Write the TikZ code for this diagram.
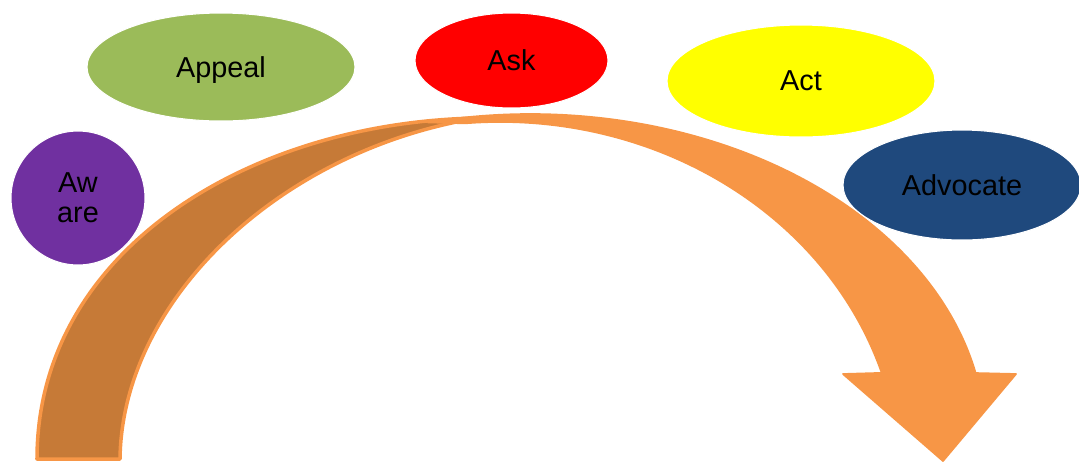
\documentclass[tikz,border=0pt]{standalone}
\usepackage{fontspec}
\setmainfont{Liberation Sans}
\usetikzlibrary{shapes.geometric}
\definecolor{arrowlight}{RGB}{247,150,70}
\definecolor{arrowdark}{RGB}{198,122,55}
\definecolor{awarepurple}{RGB}{112,48,160}
\definecolor{appealgreen}{RGB}{155,187,89}
\definecolor{askred}{RGB}{255,0,0}
\definecolor{actyellow}{RGB}{255,255,0}
\definecolor{advocateblue}{RGB}{31,73,125}

\begin{document}
\begin{tikzpicture}[x=0.02cm, y=-0.02cm,
    stage/.style={ellipse, draw=white, line width=0.6pt, inner sep=0pt, align=center,
                  text depth=0pt, font=\fontsize{16.4}{17}\selectfont, text=black},
    band/.style={draw=arrowlight, line width=2pt, line join=round},
    body/.style={fill=arrowlight, draw=arrowlight, line width=1pt, line join=round}
]
    \useasboundingbox (0,0) rectangle (1079,464);
    % back leg of the curved arrow
    \filldraw[band, fill=arrowdark] (37,459) .. controls (37,250) and (250,122) .. (478,118)
        .. controls (280,150) and (122,300) .. (120,459) -- cycle;
    % front of the arrow with its head
    \filldraw[body] (428,122.4) arc[start angle=-103, end angle=-11.86, x radius=455, y radius=326]
        -- (1016,374) -- (943,461) -- (843,374) -- (881.7,372.9)
        arc[start angle=-17.4, end angle=-95, x radius=400, y radius=358] -- cycle;
    \node[stage, circle, fill=awarepurple, minimum size=2.68cm] (aware) at (78,198) {Aw\\are};
    \node[stage, fill=appealgreen, minimum width=5.36cm, minimum height=2.16cm] (appeal) at (221,67) {Appeal};
    \node[stage, fill=askred, minimum width=3.86cm, minimum height=1.90cm] (ask) at (511.5,60.5) {Ask};
    \node[stage, fill=actyellow, minimum width=5.36cm, minimum height=2.24cm] (act) at (801,81) {Act};
    \node[stage, fill=advocateblue, minimum width=4.76cm, minimum height=2.20cm] (advocate) at (962,185) {Advocate};
\end{tikzpicture}
\end{document}
